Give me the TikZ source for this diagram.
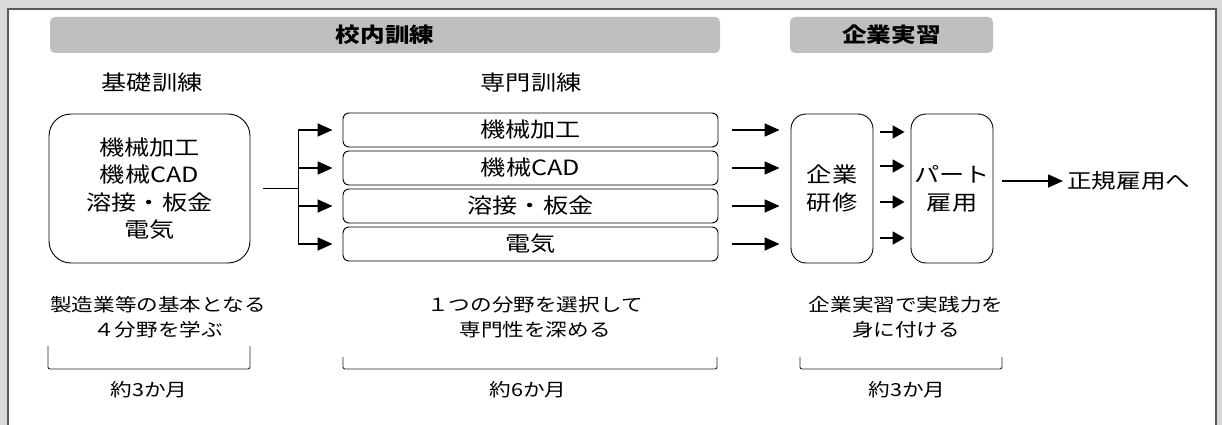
\documentclass[tikz,border=0pt]{standalone}
\usepackage{fontspec}
\setmainfont[FakeStretch=1.2]{Noto Sans CJK JP}
\usetikzlibrary{arrows.meta}
\definecolor{bgc}{HTML}{D9D9D9}
\definecolor{barc}{HTML}{BFBFBF}
\definecolor{panelc}{HTML}{595959}
\definecolor{linec}{HTML}{000000}
\begin{document}
\begin{tikzpicture}[x=1pt,y=-1pt,
  bar/.style={fill=barc, rounded corners=5, inner sep=0pt, minimum height=36, font=\fontsize{20.5}{22}\selectfont\bfseries},
  hdr/.style={inner sep=0pt, font=\fontsize{21}{24}\selectfont},
  rbox/.style={draw=linec, line width=0.9pt, fill=white, inner sep=0pt, align=center, font=\fontsize{21}{27.5}\selectfont},
  sbox/.style={rbox, minimum width=375, minimum height=34, rounded corners=6},
  tbox/.style={rbox, minimum width=82, minimum height=149, rounded corners=15, font=\fontsize{21}{28}\selectfont},
  btxt/.style={inner sep=0pt, align=center, font=\fontsize{18}{25}\selectfont},
  ln/.style={draw=black, line width=1.8pt},
  arr/.style={ln, -{Triangle[length=15pt,width=13pt]}},
  sarr/.style={ln, -{Triangle[length=12pt,width=13pt]}},
  brk/.style={draw=black!85, line width=0.9pt, rounded corners=2}]
\useasboundingbox (0,0) rectangle (1222,425);
\fill[bgc] (0,0) rectangle (1222,425);
\filldraw[fill=white, draw=panelc, line width=1.3pt] (8,9) rectangle (1216,440);
% header bars
\node[bar, minimum width=670] (b1) at (385,35) {校内訓練};
\node[bar, minimum width=203] (b2) at (891.5,35) {企業実習};
\node[hdr] (h1) at (152,83) {基礎訓練};
\node[hdr] (h2) at (531,83) {専門訓練};
% boxes
\node[rbox, minimum width=201, minimum height=149, rounded corners=22] (basic) at (149.5,188.5) {機械加工\\機械CAD\\溶接・板金\\電気};
\node[sbox] (m1) at (530.5,130) {機械加工};
\node[sbox] (m2) at (530.5,168) {機械CAD};
\node[sbox] (m3) at (530.5,206) {溶接・板金};
\node[sbox] (m4) at (530.5,244) {電気};
\node[tbox] (ken) at (832,188.5) {企業\\研修};
\node[tbox] (part) at (952,188.5) {パート\\雇用};
\node[anchor=west, inner sep=0pt, font=\fontsize{20.5}{24}\selectfont] (seiki) at (1067,181) {正規雇用へ};
% branch connectors
\coordinate (bs) at ([xshift=13pt]basic.east);
\coordinate (j) at ([xshift=48pt]basic.east);
\draw[ln] (bs) -- (j);
\draw[ln] (j |- m1.west) -- (j |- m4.west);
\coordinate (min) at ([xshift=-10pt]m1.west);
\foreach \m in {m1,m2,m3,m4}{
  \draw[arr] (j |- \m.west) -- (min |- \m.west);
}
\coordinate (mout) at ([xshift=14pt]m1.east);
\coordinate (kin) at ([xshift=-11pt]ken.west);
\foreach \m in {m1,m2,m3,m4}{
  \draw[arr] (mout |- \m.east) -- (kin |- \m.east);
}
\coordinate (kout) at ([xshift=7pt]ken.east);
\coordinate (pin) at ([xshift=-6pt]part.west);
\foreach \yy in {132,166,202,238}{
  \draw[sarr] (kout |- 0,\yy) -- (pin |- 0,\yy);
}
\coordinate (pout) at ([xshift=9pt]part.east);
\draw[arr] (pout |- seiki.west) -- ([xshift=-4pt]seiki.west);
% bottom descriptions
\node[btxt] (d1) at (158,317.5) {製造業等の基本となる\\４分野を学ぶ};
\node[btxt] (d2) at (535,317.5) {１つの分野を選択して\\専門性を深める};
\node[btxt] (d3) at (906,317.5) {企業実習で実践力を\\身に付ける};
\draw[brk] (48,346) -- (48,369) -- (250,369) -- (250,346);
\draw[brk] (343,357) -- (343,369) -- (717,369) -- (717,357);
\draw[brk] (800,357) -- (800,369) -- (1002,369) -- (1002,357);
\node[btxt] (p1) at (149,390) {約3か月};
\node[btxt] (p2) at (528,390) {約6か月};
\node[btxt] (p3) at (907,390) {約3か月};
\end{tikzpicture}
\end{document}
